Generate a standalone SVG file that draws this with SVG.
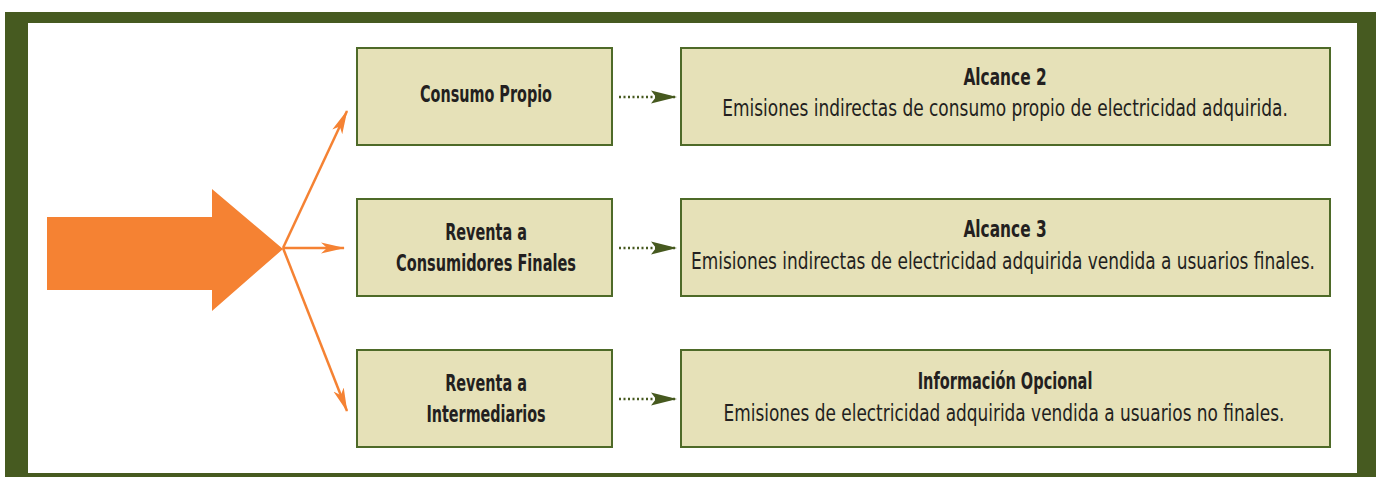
<svg xmlns="http://www.w3.org/2000/svg" width="1376" height="477" viewBox="0 0 1376 477">
<defs>
<style>
.box{fill:#e6e1b8;stroke:#4e6a28;stroke-width:2}
.t{font-family:"Liberation Sans Narrow","DejaVu Sans Condensed","Liberation Sans",sans-serif;font-stretch:condensed;fill:#231f20;text-anchor:middle}
.b{font-weight:bold;font-size:23px}
.r{font-size:23px}
.oline{stroke:#f58233;stroke-width:2.5;fill:none}
.gline{stroke:#46591f;stroke-width:2.5;stroke-dasharray:2 2.5;fill:none}
</style>
<marker id="oa" viewBox="0 0 24 14" refX="23" refY="7" markerWidth="24" markerHeight="14" markerUnits="userSpaceOnUse" orient="auto">
<path d="M0,1.5 L24,7 L0,12.5 L6,7 Z" fill="#f58233"/>
</marker>
<marker id="ga" viewBox="0 0 26 14" refX="25" refY="7" markerWidth="26" markerHeight="14" markerUnits="userSpaceOnUse" orient="auto">
<path d="M0,0.5 L26,7 L0,13.5 L5,7 Z" fill="#46591f"/>
</marker>
</defs>
<rect x="0" y="0" width="1376" height="477" fill="#ffffff"/>
<g id="frame">
<rect x="5" y="12" width="1371" height="465" fill="#465a20"/>
<rect x="28" y="23" width="1329" height="450" fill="#ffffff"/>
</g>
<g id="source">
<polygon points="47,217 212,217 212,189 283,249 212,311 212,290 47,290" fill="#f58233"/>
</g>
<g id="connectors">
<line class="oline" x1="283" y1="248" x2="347" y2="111" marker-end="url(#oa)"/>
<line class="oline" x1="283" y1="248" x2="344" y2="248" marker-end="url(#oa)"/>
<line class="oline" x1="283" y1="248" x2="347" y2="411" marker-end="url(#oa)"/>
<line class="gline" x1="619" y1="97" x2="676" y2="97" marker-end="url(#ga)"/>
<line class="gline" x1="619" y1="248" x2="676" y2="248" marker-end="url(#ga)"/>
<line class="gline" x1="619" y1="399" x2="676" y2="399" marker-end="url(#ga)"/>
</g>
<g id="consumo-propio">
<rect class="box" x="357" y="48" width="255" height="97"/>
<text class="t b" transform="translate(486 102) scale(0.75 1)" textLength="176" lengthAdjust="spacingAndGlyphs">Consumo Propio</text>
</g>
<g id="reventa-finales">
<rect class="box" x="357" y="199" width="255" height="97"/>
<text class="t b" transform="translate(486 240) scale(0.75 1)" textLength="109" lengthAdjust="spacingAndGlyphs">Reventa a</text>
<text class="t b" transform="translate(486 271) scale(0.75 1)" textLength="240" lengthAdjust="spacingAndGlyphs">Consumidores Finales</text>
</g>
<g id="reventa-intermediarios">
<rect class="box" x="357" y="350" width="255" height="97"/>
<text class="t b" transform="translate(486 391) scale(0.75 1)" textLength="109" lengthAdjust="spacingAndGlyphs">Reventa a</text>
<text class="t b" transform="translate(486 422) scale(0.75 1)" textLength="159" lengthAdjust="spacingAndGlyphs">Intermediarios</text>
</g>
<g id="alcance-2">
<rect class="box" x="681" y="48" width="649" height="97"/>
<text class="t b" transform="translate(1005 85) scale(0.75 1)" textLength="111" lengthAdjust="spacingAndGlyphs">Alcance 2</text>
<text class="t r" transform="translate(1005 116) scale(0.8 1)" textLength="707" lengthAdjust="spacingAndGlyphs">Emisiones indirectas de consumo propio de electricidad adquirida.</text>
</g>
<g id="alcance-3">
<rect class="box" x="681" y="199" width="649" height="97"/>
<text class="t b" transform="translate(1005 237) scale(0.75 1)" textLength="111" lengthAdjust="spacingAndGlyphs">Alcance 3</text>
<text class="t r" transform="translate(1003 269) scale(0.8 1)" textLength="780" lengthAdjust="spacingAndGlyphs">Emisiones indirectas de electricidad adquirida vendida a usuarios finales.</text>
</g>
<g id="informacion-opcional">
<rect class="box" x="681" y="350" width="649" height="97"/>
<text class="t b" transform="translate(1005 389) scale(0.75 1)" textLength="233" lengthAdjust="spacingAndGlyphs">Información Opcional</text>
<text class="t r" transform="translate(1004 421) scale(0.8 1)" textLength="701" lengthAdjust="spacingAndGlyphs">Emisiones de electricidad adquirida vendida a usuarios no finales.</text>
</g>
</svg>
